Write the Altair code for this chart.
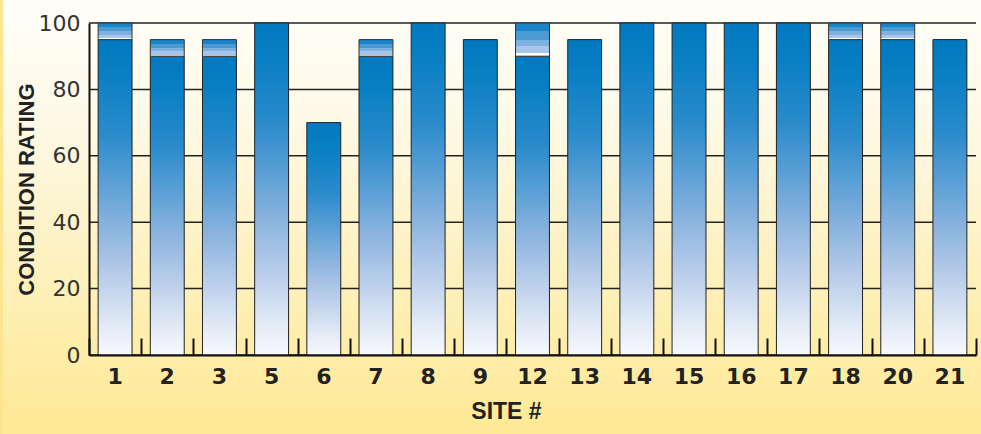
import altair as alt
import pandas as pd

# ---- data ----
sites = ["1", "2", "3", "5", "6", "7", "8", "9", "12", "13", "14", "15", "16", "17", "18", "20", "21"]
main_rating = [95, 90, 90, 100, 70, 90, 100, 95, 90, 95, 100, 100, 100, 100, 95, 95, 95]
top_rating = [100, 95, 95, 100, 70, 95, 100, 95, 100, 95, 100, 100, 100, 100, 100, 100, 95]
grid_values = [0, 20, 40, 60, 80, 100]

W, H = 887, 332
PAD = {"left": 89, "top": 23, "right": 5, "bottom": 79}

df = pd.DataFrame({"site": sites, "main": main_rating, "top": top_rating})
grid_df = pd.DataFrame({"g": grid_values})

bar_grad = alt.LinearGradient(
    gradient="linear", x1=0, x2=0, y1=0, y2=1,
    stops=[
        alt.GradientStop(color="#0079c0", offset=0),
        alt.GradientStop(color="#0a80c4", offset=0.12),
        alt.GradientStop(color="#2a8bcb", offset=0.3),
        alt.GradientStop(color="#5a9fd6", offset=0.45),
        alt.GradientStop(color="#8cb4de", offset=0.6),
        alt.GradientStop(color="#b8cdea", offset=0.75),
        alt.GradientStop(color="#e0e9f5", offset=0.9),
        alt.GradientStop(color="#f7f9fd", offset=1),
    ],
)

seg_grad = alt.LinearGradient(
    gradient="linear", x1=0, x2=0, y1=0, y2=1,
    stops=[
        alt.GradientStop(color="#1a84c8", offset=0),
        alt.GradientStop(color="#1a84c8", offset=0.25),
        alt.GradientStop(color="#4a9ad4", offset=0.25),
        alt.GradientStop(color="#4a9ad4", offset=0.5),
        alt.GradientStop(color="#7fb1e0", offset=0.5),
        alt.GradientStop(color="#7fb1e0", offset=0.7),
        alt.GradientStop(color="#a8c6e9", offset=0.7),
        alt.GradientStop(color="#a8c6e9", offset=0.9),
        alt.GradientStop(color="#ffffff", offset=0.9),
        alt.GradientStop(color="#ffffff", offset=1),
    ],
)

bg_grad = alt.LinearGradient(
    gradient="linear", x1=0, x2=0, y1=0, y2=1,
    stops=[
        alt.GradientStop(color="#fffef8", offset=0),
        alt.GradientStop(color="#fefae9", offset=0.25),
        alt.GradientStop(color="#fdf3cc", offset=0.5),
        alt.GradientStop(color="#feeeae", offset=0.75),
        alt.GradientStop(color="#ffe995", offset=1),
    ],
)

x_scale = alt.Scale(domain=sites, paddingInner=0.35, paddingOuter=0.175)
x_step_scale = alt.Scale(domain=sites, paddingInner=0, paddingOuter=0)
y_scale = alt.Scale(domain=[0, 100], nice=False)

y_axis = alt.Axis(
    title="CONDITION RATING", values=grid_values, grid=False, ticks=False,
    domain=True, domainColor="#111", domainWidth=2,
    labelFont="DejaVu Sans", labelFontSize=22, labelColor="#333", labelPadding=9,
    titleFont="Liberation Sans", titleFontSize=22, titleFontWeight="bold", titleColor="#222",
    titleAngle=270, titleAlign="center", titleBaseline="alphabetic",
    titleX=-56, titleY=166, zindex=1,
)

x_axis = alt.Axis(
    orient="bottom",
    title="SITE #", labelAngle=0, ticks=False, grid=False,
    domain=True, domainColor="#111", domainWidth=2,
    labelFont="DejaVu Sans", labelFontSize=22, labelFontWeight="bold", labelColor="#222",
    labelPadding=11,
    titleFont="Liberation Sans", titleFontSize=23, titleFontWeight="bold", titleColor="#222",
    titleBaseline="alphabetic", titleAlign="center", titleX=417, titleY=63, zindex=1,
)

tick_axis = alt.Axis(
    orient="top", offset=-H, labels=False, domain=False, grid=False, title=None,
    ticks=True, tickSize=17, tickWidth=2, tickColor="#111", tickBand="extent", zindex=1,
)

bg = alt.Chart(pd.DataFrame({"a": [0]})).mark_rect(fill=bg_grad).encode(
    x=alt.value(-PAD["left"]), x2=alt.value(W + PAD["right"]),
    y=alt.value(-PAD["top"]), y2=alt.value(H + PAD["bottom"]),
)

edge = alt.Chart(pd.DataFrame({"a": [0]})).mark_rect(fill="#fde590").encode(
    x=alt.value(-PAD["left"]), x2=alt.value(-PAD["left"] + 3),
    y=alt.value(-PAD["top"]), y2=alt.value(H + PAD["bottom"]),
)

grid = alt.Chart(grid_df).mark_rule(color="#222", strokeWidth=1.5).encode(
    y=alt.Y("g:Q", scale=y_scale, axis=y_axis),
)

bars = alt.Chart(df).mark_bar(fill=bar_grad, stroke="#222", strokeWidth=1).encode(
    x=alt.X("site:N", sort=sites, scale=x_scale, axis=x_axis),
    y=alt.Y("main:Q", scale=y_scale, axis=y_axis),
    y2=alt.datum(0),
)

segs = alt.Chart(df).transform_filter("datum.top > datum.main").mark_bar(
    fill=seg_grad, stroke="#333", strokeWidth=1
).encode(
    x=alt.X("site:N", sort=sites, scale=x_scale, axis=None),
    y=alt.Y("main:Q", scale=y_scale, axis=y_axis),
    y2="top:Q",
)

ticks = alt.Chart(df).mark_point(opacity=0).encode(
    x=alt.X("site:N", sort=sites, scale=x_step_scale, axis=tick_axis),
    y=alt.Y("main:Q", scale=y_scale, axis=y_axis),
)

chart = (
    alt.layer(bg, edge, grid, bars, segs, ticks)
    .resolve_scale(x="independent")
    .resolve_axis(x="independent")
    .properties(
        width=W, height=H,
        autosize=alt.AutoSizeParams(type="none"),
        padding=PAD,
        background="#ffe995",
    )
    .configure_view(stroke=None)
)

chart.save("out.html", embed_options={"renderer": "svg", "actions": False})
